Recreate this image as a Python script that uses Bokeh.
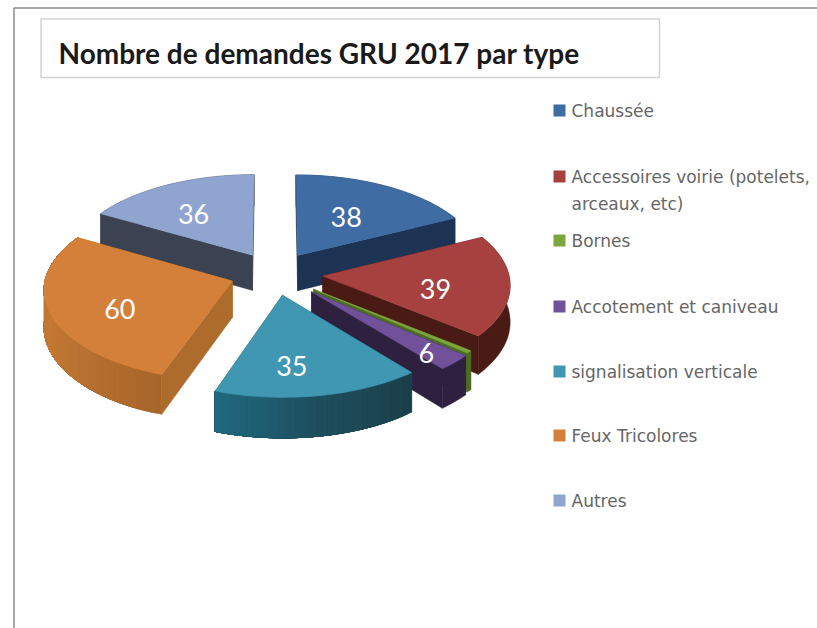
import math
from bokeh.plotting import figure
from bokeh.models import ColumnDataSource
from bokeh.core.properties import value
from bokeh.embed import file_html
from bokeh.resources import INLINE

# --- data ---
title = "Nombre de demandes GRU 2017 par type"
categories = ["Chaussée", "Accessoires voirie (potelets,\narceaux, etc)", "Bornes",
              "Accotement et caniveau", "signalisation verticale", "Feux Tricolores", "Autres"]
values = [38, 39, 1, 6, 35, 60, 36]
shown_labels = ["38", "39", "", "6", "35", "60", "36"]

# --- style ---
top_colors = ["#3e6ca3", "#a64140", "#7fa53f", "#70519a", "#3f97b1", "#d5803a", "#8fa5cf"]
radial_colors = ["#1c3353", "#4a1a14", "#4d6b22", "#2e2140", "#1d5565", "#ad6b2c", "#3b4252"]
arc_stops = [["#1c3353"], ["#4a1a14"], ["#4d6b22"], ["#2e2140"],
             ["#1b3f49", "#1e4e5d", "#20697f"], ["#a8652a", "#c47a35", "#bb7531"], ["#3b4252"]]
explode = [0.24, 0.26, 0.27, 0.28, 0.24, 0.24, 0.24]
label_shift = [-0.4, 5.3, 0, 1.6, 4.9, -4.6, -3.1]
label_frac = [0.54, 0.611, 0, 0.84, 0.715, 0.65, 0.60]
draw_order = [6, 0, 1, 5, 2, 3, 4]
CX, CY, RX, RY, K = 274.0, 273.0, 186.0, 90.0, 0.0825
WALL, WALL_TILT = 36.0, 0.1
legend_y = [110, 176, 240, 306, 371, 435, 500]
LINE_H = 27


def project(xd, yd):
    s = 1.0 / (1.0 + K * yd)
    return CX + RX * xd * s, CY - RY * yd * s


def wall(yd):
    return WALL * (1.0 - WALL_TILT * yd)


def lerp_hex(stops, t):
    if len(stops) == 1:
        return stops[0]
    pos = t * (len(stops) - 1)
    i = min(int(pos), len(stops) - 2)
    f = pos - i
    a = stops[i].lstrip("#")
    b = stops[i + 1].lstrip("#")
    ch = [round(int(a[j:j + 2], 16) * (1 - f) + int(b[j:j + 2], 16) * f) for j in (0, 2, 4)]
    return "#%02x%02x%02x" % tuple(ch)


total = sum(values)
starts, acc = [], 0
for v in values:
    starts.append(acc / total * 2 * math.pi)
    acc += v
ends = starts[1:] + [2 * math.pi]

px, py, pc = [], [], []


def add(xs, ys, c):
    px.append(xs)
    py.append(ys)
    pc.append(c)


def band(rim_part, c):
    up = [project(*q) for q in rim_part]
    low = [(x, y + wall(q[1])) for (x, y), q in zip(up, rim_part)]
    seq = up + low[::-1]
    add([q[0] for q in seq], [q[1] for q in seq], c)


for i in draw_order:
    a0, a1 = starts[i], ends[i]
    mid = (a0 + a1) / 2
    ox, oy = explode[i] * math.sin(mid), explode[i] * math.cos(mid)
    n = max(3, int(math.degrees(a1 - a0) / 1.5))
    rim = [(ox + math.sin(a0 + (a1 - a0) * j / n), oy + math.cos(a0 + (a1 - a0) * j / n)) for j in range(n + 1)]
    ax, ay = project(ox, oy)
    ah = wall(oy)
    # radial walls
    for (rx, ry) in (rim[0], rim[-1]):
        qx, qy = project(rx, ry)
        add([ax, qx, qx, ax], [ay, qy, qy + wall(ry), ay + ah], radial_colors[i])
    # outer wall: one band, or overlapping bands when its shade varies
    if len(arc_stops[i]) == 1:
        band(rim, arc_stops[i][0])
    else:
        for j in range(n):
            band(rim[j:], lerp_hex(arc_stops[i], (j + 0.5) / n))
    # top face
    pts = [project(*q) for q in rim]
    add([ax] + [q[0] for q in pts], [ay] + [q[1] for q in pts], top_colors[i])

p = figure(width=817, height=628, x_range=(0, 817), y_range=(628, 0),
           output_backend="svg", toolbar_location=None, min_border=0,
           outline_line_color=None, background_fill_color="white", border_fill_color="white")
p.axis.visible = False
p.grid.visible = False

# picture frame
p.line([13.5, 13.5, 817], [628, 7.5, 7.5], line_color="#8a8a8a", line_width=1.5)

# title box
p.quad(left=[40.5], right=[659], top=[18.5], bottom=[77], fill_color="white", line_color="#d2d2d2", line_width=1.5)
p.text([58], [52], text=[title], text_font=value("Lato"), text_font_size="28px", text_font_style="bold",
       text_color="#1a1a1a", text_baseline="middle", text_align="left")

# pie
src = ColumnDataSource(dict(x=px, y=py, c=pc))
p.patches("x", "y", source=src, fill_color="c", line_color="c", line_width=0.5)

# data labels
lx, ly, lt = [], [], []
for i, t in enumerate(shown_labels):
    if not t:
        continue
    a = (starts[i] + ends[i]) / 2 + math.radians(label_shift[i])
    r = explode[i] + label_frac[i]
    x, y = project(r * math.sin(a), r * math.cos(a))
    lx.append(x)
    ly.append(y)
    lt.append(t)
p.text(lx, ly, text=lt, text_font=value("Lato"), text_font_size="27px", text_color="white",
       text_align="center", text_baseline="middle")

# legend
p.scatter([559] * len(categories), legend_y, marker="square", size=12,
          fill_color=top_colors, line_color=None)
tx, ty, tt = [], [], []
for c, y in zip(categories, legend_y):
    for k, part in enumerate(c.split("\n")):
        tx.append(571)
        ty.append(y + k * LINE_H)
        tt.append(part)
p.text(tx, ty, text=tt, text_font=value("DejaVu Sans"), text_font_size="17px", text_color="#666666",
       text_align="left", text_baseline="middle")

open("out.html", "w").write(file_html(p, INLINE))
